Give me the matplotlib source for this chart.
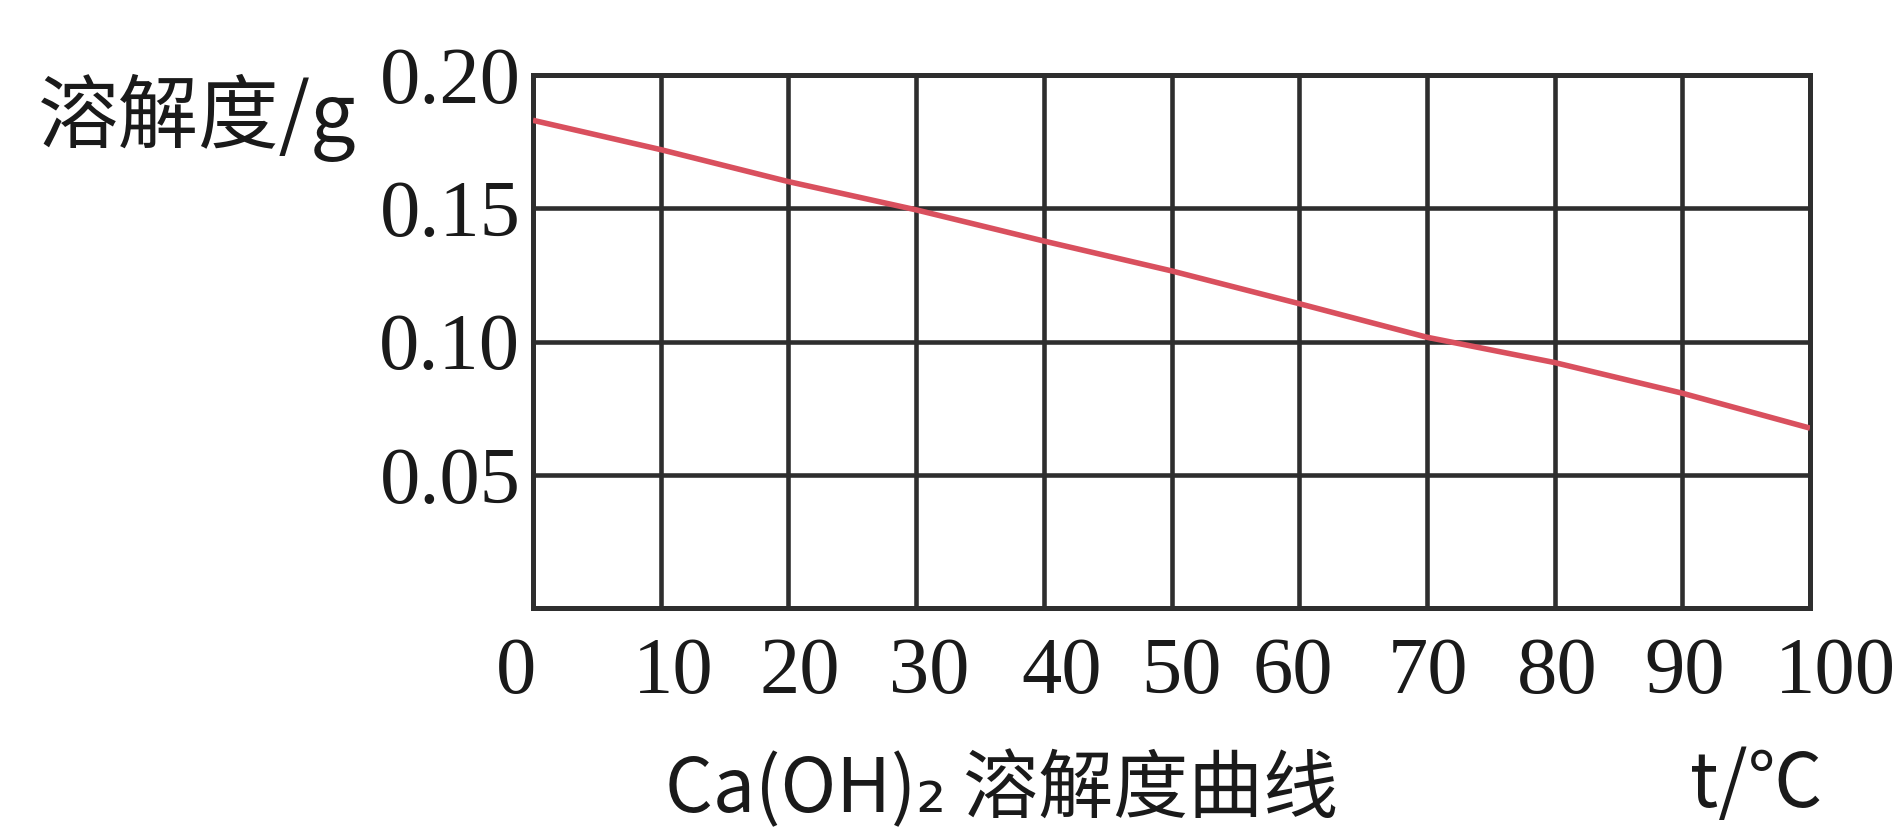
import matplotlib
matplotlib.use("Agg")
import matplotlib.pyplot as plt
import matplotlib.transforms as mtransforms

# ---- data ----
temps = [0, 10, 20, 30, 40, 50, 60, 70, 80, 90, 100]
solubility = [0.183, 0.172, 0.160, 0.1494, 0.1377, 0.1265, 0.1142, 0.1016, 0.0921, 0.0806, 0.0675]
x_ticks = [0, 10, 20, 30, 40, 50, 60, 70, 80, 90, 100]
x_tick_labels = ["0", "10", "20", "30", "40", "50", "60", "70", "80", "90", "100"]
x_label_pos = [-1.3, 11.0, 20.9, 31.0, 41.4, 50.8, 59.5, 70.1, 80.2, 90.2, 102.0]
y_ticks = [0.05, 0.10, 0.15, 0.20]
y_tick_labels = ["0.05", "0.10", "0.15", "0.20"]
y_label_text = "溶解度/g"
x_unit_text = "t/℃"
title_text = "Ca(OH)₂ 溶解度曲线"

SERIF = ["Liberation Serif", "DejaVu Serif"]
CJK = ["Noto Sans CJK SC", "DejaVu Sans"]
GRID_C = "#2e2e2e"

fig = plt.figure(figsize=(19, 8.32), dpi=100)
ax = fig.add_axes([533 / 1900, 1 - 608 / 832, (1810 - 533) / 1900, (608 - 75) / 832])

ax.set_xlim(0, 100)
ax.set_ylim(0, 0.20)
ax.set_xticks(x_ticks)
ax.set_yticks(y_ticks)
ax.set_xticklabels([])
ax.set_yticklabels(y_tick_labels, fontfamily=SERIF, fontsize=58, color="#1a1a1a")
ax.tick_params(axis="both", length=0)
ax.tick_params(axis="y", pad=9)
ax.grid(True, color=GRID_C, linewidth=3.3)
ax.set_axisbelow(True)
for s in ax.spines.values():
    s.set_color(GRID_C)
    s.set_linewidth(3.6)

ax.plot(temps, solubility, color="#d9505e", linewidth=4.0, solid_capstyle="butt", zorder=3)

trans = mtransforms.blended_transform_factory(ax.transData, ax.transAxes)
for pos, lab in zip(x_label_pos, x_tick_labels):
    ax.text(pos, -0.123, lab, transform=trans, ha="center", va="center",
            fontfamily=SERIF, fontsize=58, color="#1a1a1a", clip_on=False)

fig.text(38 / 1900, 1 - 118 / 832, y_label_text, ha="left", va="center",
         fontfamily=CJK, fontsize=58, color="#1a1a1a")
fig.text(1690 / 1900, 1 - 785 / 832, x_unit_text, ha="left", va="center",
         fontfamily=CJK, fontsize=54, color="#1a1a1a")
fig.text(665 / 1900, 1 - 790 / 832, title_text, ha="left", va="center",
         fontfamily=CJK, fontsize=54, color="#1a1a1a")

fig.savefig("out.png", dpi=100, facecolor="white")
